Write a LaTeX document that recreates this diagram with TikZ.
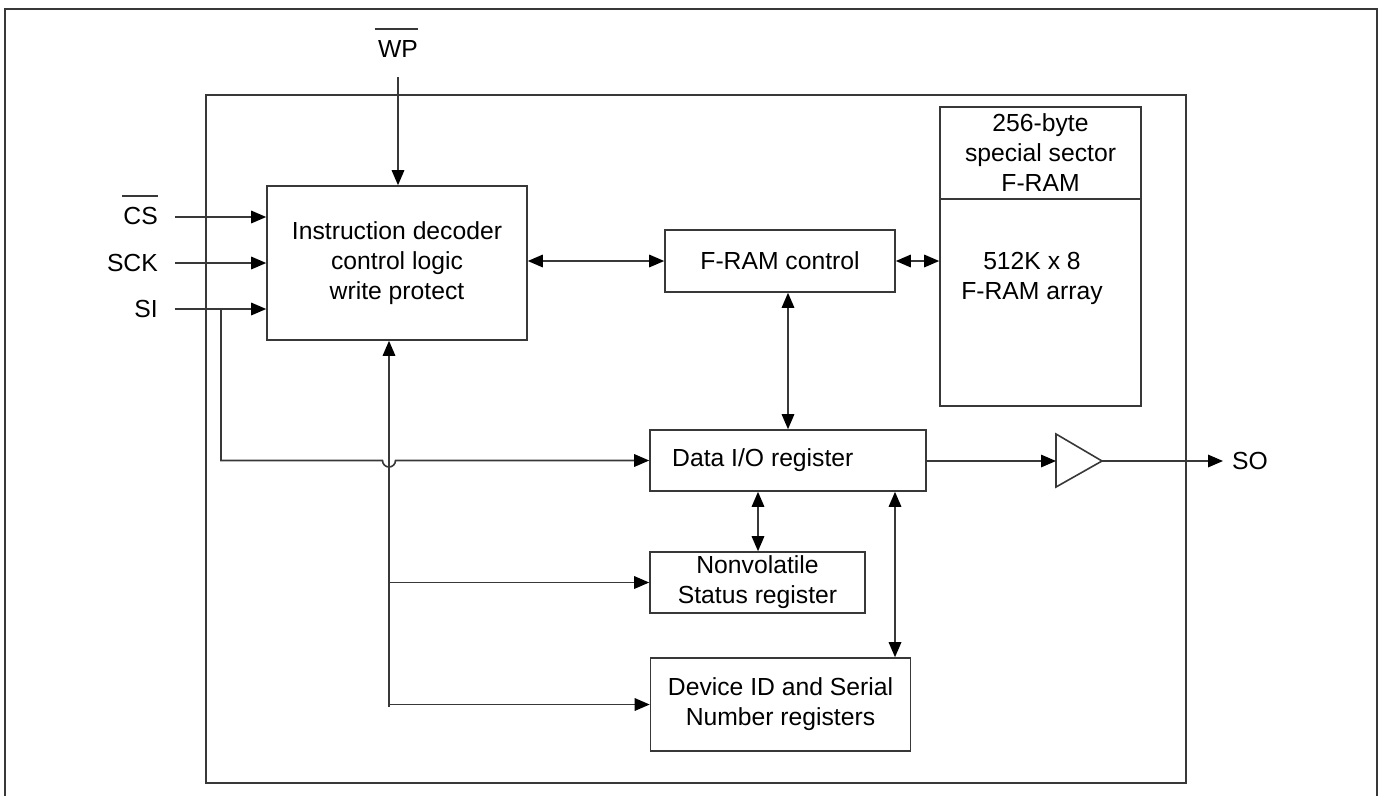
\documentclass[tikz,border=0pt]{standalone}
\usepackage{fontspec}
\setmainfont{Liberation Sans}
\usetikzlibrary{arrows.meta,calc}
\begin{document}
\begin{tikzpicture}[x=1pt,y=-1pt,
  ln/.style={draw=black!78,line width=1.6pt},
  box/.style={ln,rectangle,inner sep=0pt,align=center,font=\fontsize{24.7}{30}\selectfont},
  txt/.style={inner sep=0pt,font=\fontsize{24.7}{30}\selectfont,align=center},
  tip/.tip={Triangle[length=15pt,width=12.5pt,color=black]},
  arr/.style={ln,-tip},
  barr/.style={ln,tip-tip},
  ovl/.style={draw=black!78,line width=1.8pt}]
\useasboundingbox (0,0) rectangle (1383,796);
% outer frame (bottom cut off)
\draw[ln] (5,796) -- (5,9) -- (1377,9) -- (1377,796);
% chip outline
\draw[ln] (206,95) rectangle (1186,783);
% blocks
\node[box,minimum width=260pt,minimum height=154pt] (dec) at (397,263) {Instruction decoder\\control logic\\write protect};
\node[box,minimum width=230pt,minimum height=62pt] (fctl) at (780,261) {F-RAM control};
\node[box,minimum width=201pt,minimum height=92pt] (memtop) at (1040.5,153) {256-byte\\special sector\\F-RAM};
\node[box,minimum width=201pt,minimum height=207pt] (membot) at (1040.5,302.5) {};
\node[txt] (memtxt) at (1032,278) {512K x 8\\F-RAM array};
\node[box,minimum width=276pt,minimum height=61pt] (dio) at (788,460.5) {};
\node[txt,anchor=west] (diotxt) at (672,460.5) {Data I/O register};
\node[box,minimum width=215pt,minimum height=61pt] (nv) at (757.5,582.5) {Nonvolatile\\Status register};
\node[box,minimum width=260pt,minimum height=93pt] (did) at (780.5,704.5) {Device ID and Serial\\Number registers};
% pin labels
\node[txt,anchor=center] (wpl) at (398,48.5) {WP};
\draw[ovl] ([yshift=11pt,xshift=-3pt]wpl.north west) -- ([yshift=11pt]wpl.north east);
\node[txt,anchor=east] (csl) at (158,216) {CS};
\draw[ovl] ([yshift=11pt,xshift=-1pt]csl.north west) -- ([yshift=11pt]csl.north east);
\node[txt,anchor=east] (sckl) at (158,263) {SCK};
\node[txt,anchor=east] (sil) at (158,309) {SI};
\node[txt,anchor=west] (sol) at (1232,461) {SO};
% pin coordinates
\coordinate (wpin) at (398,77);
\coordinate (csin) at (175,217);
\coordinate (sckin) at (175,263);
\coordinate (siin) at (175,309);
\coordinate (sij) at (221,309);
\coordinate (vb) at (389,707);
% inputs
\draw[arr] (wpin) -- (wpin |- dec.north);
\draw[arr] (csin) -- (csin -| dec.west);
\draw[arr] (sckin) -- (sckin -| dec.west);
\draw[arr] (siin) -- (siin -| dec.west);
% SI to Data I/O with hop
\draw[arr] (sij) -- (sij |- dio.west) -- ($(vb |- dio.west)+(-6.5,0)$) arc[start angle=180,end angle=0,radius=6.5] -- (dio.west);
% control bus from decoder
\draw[arr] (vb) -- (vb |- dec.south);
\draw[arr] (vb |- nv.west) -- (nv.west);
\draw[arr] (vb |- did.west) -- (did.west);
% bidirectional links
\draw[barr] (fctl.west -| dec.east) -- (fctl.west);
\draw[barr] (fctl.east) -- (fctl.east -| membot.west);
\coordinate (fv) at (788,0);
\draw[barr] (fv |- fctl.south) -- (fv |- dio.north);
\coordinate (nvv) at (758,0);
\draw[barr] (nvv |- dio.south) -- (nvv |- nv.north);
\coordinate (dv) at (895,0);
\draw[barr] (dv |- dio.south) -- (dv |- did.north);
% output buffer
\coordinate (bufin) at (1056,461);
\coordinate (bufout) at (1102,461);
\draw[ln,line join=miter] (1056,434) -- (bufout) -- (1056,487) -- cycle;
\draw[arr] (dio.east |- bufin) -- (bufin);
\coordinate (soend) at (1223,461);
\draw[arr] (bufout) -- (soend);
\end{tikzpicture}
\end{document}
